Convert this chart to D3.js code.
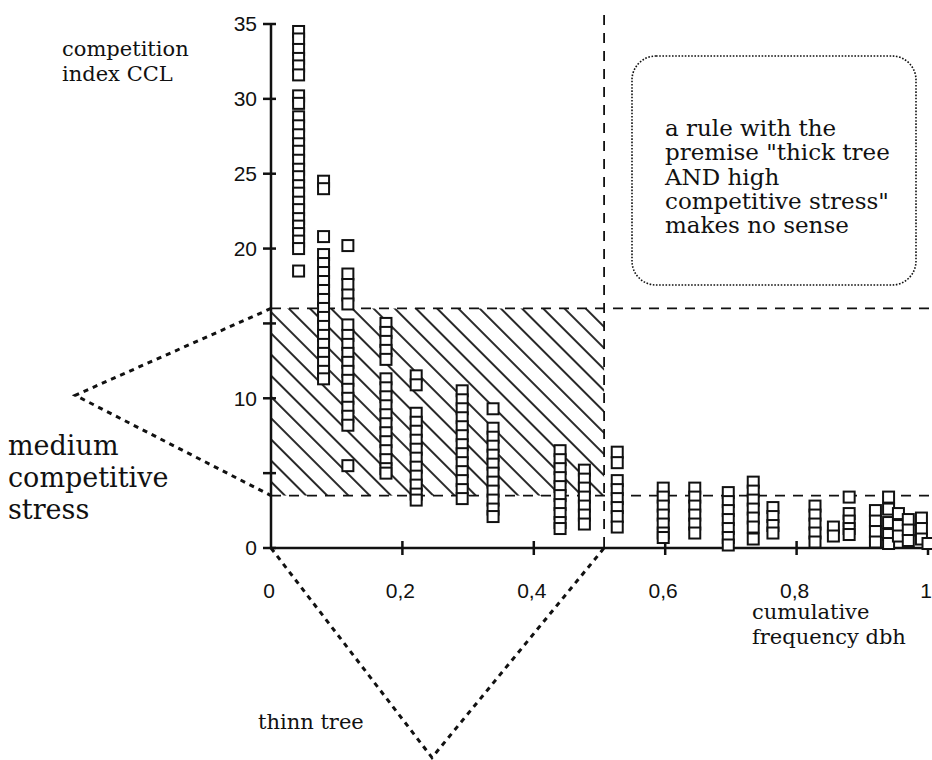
<!DOCTYPE html>
<html>
<head>
<meta charset="utf-8">
<script src="https://cdn.jsdelivr.net/npm/d3@7"></script>
<style>
  body { margin: 0; background: #fff; }
  svg { display: block; }
  .serif { font-family: "DejaVu Serif", serif; fill: #111; }
  .tick-label { font-family: "Liberation Sans", Arial, sans-serif; font-size: 21px; fill: #111; }
</style>
</head>
<body>
<div id="chart"></div>
<script>
// x positions (cumulative frequency dbh) of each column of squares
let columnX = [0.042, 0.080, 0.117, 0.175, 0.221, 0.291, 0.338, 0.440, 0.477,
    0.527, 0.597, 0.645, 0.696, 0.734, 0.764, 0.828, 0.856, 0.880,
    0.920, 0.940, 0.955, 0.970, 0.990, 1.000];

// competition index CCL values, one list per column
let columnCCL = [
    [34.5, 34.0, 33.3, 32.7, 32.2, 31.6, 30.2, 29.7, 28.8, 28.2, 27.6, 27.0, 26.5, 25.9,
        25.3, 24.8, 24.2, 23.7, 23.1, 22.6, 22.0, 21.5, 21.0, 20.5, 20.0, 18.5],
    [24.5, 24.0, 20.8, 19.6, 19.0, 18.4, 17.8, 17.2, 16.6, 16.0, 15.4, 14.8, 14.2, 13.6,
        13.0, 12.4, 11.8, 11.3],
    [20.2, 18.3, 17.6, 16.9, 16.3, 14.9, 14.2, 13.6, 13.0, 12.4, 11.8, 11.2, 10.6, 10.0,
        9.4, 8.8, 8.2, 5.5],
    [15.0, 14.4, 13.8, 13.2, 12.6, 11.3, 10.7, 10.1, 9.5, 8.9, 8.3, 7.7, 7.1, 6.5, 5.9, 5.3, 5.0],
    [11.5, 10.9, 9.0, 8.4, 7.8, 7.2, 6.6, 6.0, 5.4, 4.8, 4.2, 3.6, 3.2],
    [10.5, 9.9, 9.3, 8.7, 8.1, 7.5, 6.9, 6.3, 5.7, 5.1, 4.5, 3.9, 3.3],
    [9.3, 8.0, 7.4, 6.8, 6.2, 5.6, 5.0, 4.4, 3.8, 3.2, 2.6, 2.1],
    [6.5, 5.9, 5.3, 4.7, 4.1, 3.5, 2.9, 2.3, 1.7, 1.3],
    [5.2, 4.6, 4.0, 3.4, 2.8, 2.2, 1.6],
    [6.4, 5.7, 4.5, 3.9, 3.3, 2.7, 2.1, 1.4],
    [4.0, 3.4, 2.8, 2.2, 1.6, 1.0, 0.7],
    [4.0, 3.4, 2.8, 2.2, 1.6, 1.0],
    [3.7, 3.1, 2.5, 1.9, 1.3, 0.7, 0.2],
    [4.4, 3.8, 3.2, 2.6, 2.0, 1.4, 0.6],
    [2.7, 2.1, 1.5, 1.0],
    [2.8, 2.2, 1.6, 1.0, 0.4],
    [1.4, 0.8],
    [3.4, 2.3, 1.8, 1.3, 0.9],
    [2.5, 1.8, 1.1, 0.4],
    [3.4, 2.6, 1.7, 0.9, 0.3],
    [2.3, 1.5, 0.8],
    [1.9, 1.2, 0.5],
    [2.0, 1.3, 0.6],
    [0.3]
];

// axis ticks and labels
let yTicks = [0, 5, 10, 15, 20, 25, 30, 35];
let yLabels = [0, 10, 20, 25, 30, 35];
let xTicks = [0.2, 0.4, 0.6, 0.8, 1];
let xLabels = ["0", "0,2", "0,4", "0,6", "0,8", "1"];
let xLabelValues = [0, 0.2, 0.4, 0.6, 0.8, 1];

// the "thin tree / medium stress" rule region
let thinLimit = 0.507;
let stressLow = 3.5;
let stressHigh = 16;

let boxLines = ["a rule with the", "premise \"thick tree", "AND high",
    "competitive stress\"", "makes no sense"];

let width = 932, height = 760;

let svg = d3.select("#chart").append("svg")
    .attr("width", width)
    .attr("height", height);

let x = d3.scaleLinear().domain([0, 1]).range([271, 928]);
let y = d3.scaleLinear().domain([0, 35]).range([548, 24]);

// hatch pattern for the rule region
let defs = svg.append("defs");
defs.append("pattern")
    .attr("id", "hatch")
    .attr("patternUnits", "userSpaceOnUse")
    .attr("width", 15)
    .attr("height", 15)
    .attr("patternTransform", "rotate(-45)")
    .append("line")
    .attr("x1", 1).attr("y1", 0)
    .attr("x2", 1).attr("y2", 15)
    .attr("stroke", "#111")
    .attr("stroke-width", 1.8);

svg.append("rect")
    .attr("x", x(0))
    .attr("y", y(stressHigh))
    .attr("width", x(thinLimit) - x(0))
    .attr("height", y(stressLow) - y(stressHigh))
    .attr("fill", "url(#hatch)");

// dashed boundaries
let dashed = svg.append("g")
    .attr("stroke", "#111")
    .attr("stroke-width", 1.8)
    .attr("stroke-dasharray", "10,8")
    .attr("fill", "none");

dashed.append("line")
    .attr("x1", x(thinLimit)).attr("x2", x(thinLimit))
    .attr("y1", y(35.6)).attr("y2", y(0));

[stressHigh, stressLow].forEach(function (v) {
    dashed.append("line")
        .attr("x1", x(0)).attr("x2", width)
        .attr("y1", y(v)).attr("y2", y(v));
});

// dotted pointers to the linguistic labels
let dotted = svg.append("g")
    .attr("stroke", "#111")
    .attr("stroke-width", 3)
    .attr("stroke-dasharray", "5,5")
    .attr("fill", "none");

dotted.append("path")
    .attr("d", d3.line()([
        [x(0), y(stressHigh)],
        [x(-0.298), y(10.2)],
        [x(0), y(stressLow)]
    ]));

dotted.append("path")
    .attr("d", d3.line()([
        [x(0), y(0)],
        [x(0.245), y(-14)],
        [x(thinLimit), y(0)]
    ]));

// axes
let axes = svg.append("g")
    .attr("stroke", "#111")
    .attr("stroke-width", 2.5);

axes.append("line")
    .attr("x1", x(0)).attr("x2", x(0))
    .attr("y1", y(0)).attr("y2", y(35));

axes.append("line")
    .attr("x1", x(0)).attr("x2", x(1))
    .attr("y1", y(0)).attr("y2", y(0));

axes.selectAll(".ytick")
    .data(yTicks)
    .enter()
    .append("line")
    .attr("x1", x(0) - 8)
    .attr("x2", x(0) + 5)
    .attr("y1", function (d) { return y(d) })
    .attr("y2", function (d) { return y(d) });

axes.selectAll(".xtick")
    .data(xTicks)
    .enter()
    .append("line")
    .attr("x1", function (d) { return x(d) })
    .attr("x2", function (d) { return x(d) })
    .attr("y1", y(0) - 7)
    .attr("y2", y(0) + 7);

svg.selectAll(".ylab")
    .data(yLabels)
    .enter()
    .append("text")
    .attr("class", "tick-label")
    .attr("x", x(0) - 14)
    .attr("y", function (d) { return y(d) })
    .attr("dy", "0.35em")
    .attr("text-anchor", "end")
    .text(function (d) { return d });

svg.selectAll(".xlab")
    .data(xLabels)
    .enter()
    .append("text")
    .attr("class", "tick-label")
    .attr("x", function (d, i) { return x(xLabelValues[i]) - 2 })
    .attr("y", y(0) + 50)
    .attr("text-anchor", "middle")
    .text(function (d) { return d });

// data squares, one group per column
let points = [];
columnX.forEach(function (cx, i) {
    columnCCL[i].forEach(function (v) {
        points.push({ fx: cx, ccl: v });
    });
});

let s = 11;
svg.append("g")
    .selectAll("rect")
    .data(points)
    .enter()
    .append("rect")
    .attr("x", function (d) { return x(d.fx) - s / 2 })
    .attr("y", function (d) { return y(d.ccl) - s / 2 })
    .attr("width", s)
    .attr("height", s)
    .attr("fill", "#fff")
    .attr("stroke", "#111")
    .attr("stroke-width", 2);

// rounded note box
svg.append("rect")
    .attr("x", 632).attr("y", 56)
    .attr("width", 284).attr("height", 229)
    .attr("rx", 24).attr("ry", 24)
    .attr("fill", "none")
    .attr("stroke", "#111")
    .attr("stroke-width", 1.6)
    .attr("stroke-dasharray", "1.6,1.6");

svg.append("text")
    .attr("class", "serif")
    .attr("font-size", 23)
    .selectAll("tspan")
    .data(boxLines)
    .enter()
    .append("tspan")
    .attr("x", 665)
    .attr("y", function (d, i) { return 136 + i * 24.3 })
    .text(function (d) { return d });

// axis names and linguistic labels
function block(lines, px, py, size, lh) {
    svg.append("text")
        .attr("class", "serif")
        .attr("font-size", size)
        .selectAll("tspan")
        .data(lines)
        .enter()
        .append("tspan")
        .attr("x", px)
        .attr("y", function (d, i) { return py + i * lh })
        .text(function (d) { return d });
}

block(["competition", "index CCL"], 62, 56, 21, 25);
block(["medium", "competitive", "stress"], 8, 455, 27, 32);
block(["cumulative", "frequency dbh"], 752, 619, 21, 25);
block(["thinn tree"], 258, 729, 21, 0);
</script>
</body>
</html>
